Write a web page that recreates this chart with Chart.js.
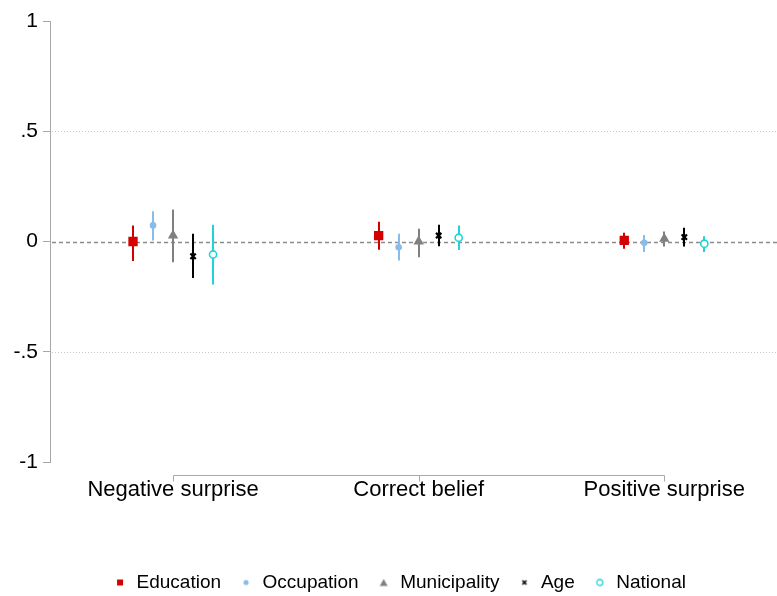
<!DOCTYPE html>
<html><head><meta charset="utf-8">
<script src="https://cdn.jsdelivr.net/npm/chart.js@4.4.1/dist/chart.umd.min.js"></script>
<style>html,body{margin:0;padding:0;overflow:hidden;background:#fff}</style>
</head><body>
<canvas id="c" width="777" height="602" style="display:block;width:777px;height:602px"></canvas>
<script>
// ---- data ----
const categories = ['Negative surprise', 'Correct belief', 'Positive surprise'];
const seriesNames = ['Education', 'Occupation', 'Municipality', 'Age', 'National'];
const yTickValues = [-1, -0.5, 0, 0.5, 1];
const yTickLabels = ['-1', '-.5', '0', '.5', '1'];

const educationEst = [0.000, 0.027, 0.005];
const educationLo  = [-0.088, -0.037, -0.033];
const educationHi  = [0.073, 0.090, 0.040];

const occupationEst = [0.073, -0.026, -0.006];
const occupationLo  = [0.005, -0.086, -0.048];
const occupationHi  = [0.137, 0.035, 0.030];

const municipalityEst = [0.027, 0.000, 0.012];
const municipalityLo  = [-0.094, -0.071, -0.023];
const municipalityHi  = [0.145, 0.058, 0.045];

const ageEst = [-0.067, 0.027, 0.020];
const ageLo  = [-0.165, -0.021, -0.023];
const ageHi  = [0.035, 0.076, 0.062];

const nationalEst = [-0.059, 0.017, -0.010];
const nationalLo  = [-0.195, -0.038, -0.048];
const nationalHi  = [0.076, 0.073, 0.024];

// ---- styling ----
const FONT = "'Liberation Sans', Arial, sans-serif";
const colors = ['#d40000', '#87bde8', '#808080', '#000000', '#1fd3d8'];
const seriesEst = [educationEst, occupationEst, municipalityEst, ageEst, nationalEst];
const seriesLo = [educationLo, occupationLo, municipalityLo, ageLo, nationalLo];
const seriesHi = [educationHi, occupationHi, municipalityHi, ageHi, nationalHi];
const offsetStep = 0.0815;
const pointStyles = ['rect', 'circle', 'triangle', 'crossRot', 'circle'];
const pointRadii = [6.6, 3.3, 6, 3.8, 3.6];
const pointBg = ['#d40000', '#87bde8', '#808080', '#000000', '#ffffff'];
const pointBw = [0, 0, 0, 2.2, 1.6];

function icon(kind, color) {
  const c = document.createElement('canvas');
  c.width = 10; c.height = 10;
  const g = c.getContext('2d');
  g.fillStyle = color; g.strokeStyle = color;
  if (kind === 0) { g.fillRect(2, 2, 6, 6); }
  else if (kind === 1) { g.beginPath(); g.arc(5, 5, 2.6, 0, Math.PI * 2); g.fill(); }
  else if (kind === 2) { g.beginPath(); g.moveTo(5, 1.5); g.lineTo(9, 8.5); g.lineTo(1, 8.5); g.closePath(); g.fill(); }
  else if (kind === 3) { g.lineWidth = 1.6; g.beginPath(); g.moveTo(3, 3); g.lineTo(7, 7); g.moveTo(7, 3); g.lineTo(3, 7); g.stroke(); }
  else { g.lineWidth = 1.3; g.beginPath(); g.arc(5, 5, 3, 0, Math.PI * 2); g.stroke(); }
  return c;
}
const legendIcons = colors.map((c, i) => icon(i, c));

const datasets = seriesNames.map((name, si) => ({
  label: name,
  data: seriesEst[si].map((v, ci) => ({ x: ci + 1 + (si - 2) * offsetStep, y: v })),
  pointStyle: pointStyles[si],
  pointRadius: pointRadii[si],
  pointHoverRadius: pointRadii[si],
  backgroundColor: pointBg[si],
  borderColor: colors[si],
  pointBorderWidth: pointBw[si],
  showLine: false
}));

const decor = {
  id: 'decor',
  afterLayout(chart) {
    // nudge the legend block to the right to match the original centring
    if (chart.legend) { chart.legend.left += 11; chart.legend.right += 11; }
  },
  beforeDatasetsDraw(chart) {
    const { ctx, chartArea: a, scales: { x, y } } = chart;
    const right = chart.width;
    ctx.save();
    // dotted gridlines
    ctx.strokeStyle = '#c8c8c8'; ctx.lineWidth = 1; ctx.setLineDash([1, 2]);
    [0.5, -0.5].forEach(v => {
      const py = Math.round(y.getPixelForValue(v)) + 0.5;
      ctx.beginPath(); ctx.moveTo(a.left + 2, py); ctx.lineTo(right, py); ctx.stroke();
    });
    // zero reference line
    ctx.strokeStyle = '#8c8c8c'; ctx.lineWidth = 1.3; ctx.setLineDash([4, 3]);
    const pz = Math.round(y.getPixelForValue(0)) + 0.5;
    ctx.beginPath(); ctx.moveTo(a.left + 2, pz); ctx.lineTo(right, pz); ctx.stroke();
    // x axis line and ticks
    ctx.setLineDash([]); ctx.strokeStyle = '#a8a8a8'; ctx.lineWidth = 1;
    const ay = Math.round(a.bottom + 13) + 0.5;
    const x1 = Math.round(x.getPixelForValue(1)) + 0.5, x3 = Math.round(x.getPixelForValue(categories.length)) + 0.5;
    ctx.beginPath(); ctx.moveTo(x1, ay); ctx.lineTo(x3, ay); ctx.stroke();
    categories.forEach((c, i) => {
      const px = Math.round(x.getPixelForValue(i + 1)) + 0.5;
      ctx.beginPath(); ctx.moveTo(px, ay); ctx.lineTo(px, ay + 6); ctx.stroke();
    });
    // confidence intervals
    ctx.lineWidth = 2;
    seriesNames.forEach((n, si) => {
      ctx.strokeStyle = colors[si];
      seriesEst[si].forEach((e, ci) => {
        const px = Math.round(x.getPixelForValue(ci + 1 + (si - 2) * offsetStep));
        ctx.beginPath();
        ctx.moveTo(px, y.getPixelForValue(seriesHi[si][ci]));
        ctx.lineTo(px, y.getPixelForValue(seriesLo[si][ci]));
        ctx.stroke();
      });
    });
    ctx.restore();
  }
};

new Chart(document.getElementById('c'), {
  type: 'scatter',
  data: { datasets },
  options: {
    responsive: false,
    animation: false,
    events: [],
    layout: { padding: { top: 21, left: 0, right: 0, bottom: 0 } },
    plugins: {
      tooltip: { enabled: false },
      legend: {
        position: 'bottom',
        labels: {
          usePointStyle: true,
          boxWidth: 14,
          boxHeight: 8,
          padding: 18,
          color: '#000',
          font: { family: FONT, size: 19 },
          generateLabels(chart) {
            return chart.data.datasets.map((d, i) => ({
              text: d.label, pointStyle: legendIcons[i], fillStyle: colors[i],
              strokeStyle: colors[i], lineWidth: 0, hidden: false, datasetIndex: i, fontColor: '#000'
            }));
          }
        }
      }
    },
    scales: {
      x: {
        type: 'linear', min: 0.499, max: 3.432,
        grid: { display: false }, border: { display: false },
        afterBuildTicks(s) { s.ticks = categories.map((c, i) => ({ value: i + 1 })); },
        afterFit(s) { s.height = 93; },
        ticks: {
          autoSkip: false, maxRotation: 0, padding: 7, color: '#000',
          font: { family: FONT, size: 22 },
          callback(v) { return categories[v - 1]; }
        }
      },
      y: {
        min: -1, max: 1,
        afterBuildTicks(s) { s.ticks = yTickValues.map(v => ({ value: v })); },
        afterFit(s) { s.width = 50; },
        grid: { drawOnChartArea: false, drawTicks: true, tickLength: 7, tickColor: '#a8a8a8', tickWidth: 1 },
        border: { display: true, color: '#a8a8a8', width: 1 },
        ticks: {
          padding: 5, color: '#000',
          font: { family: FONT, size: 21 },
          callback(v) { return yTickLabels[yTickValues.indexOf(v)]; }
        }
      }
    }
  },
  plugins: [decor]
});
</script>
</body></html>
